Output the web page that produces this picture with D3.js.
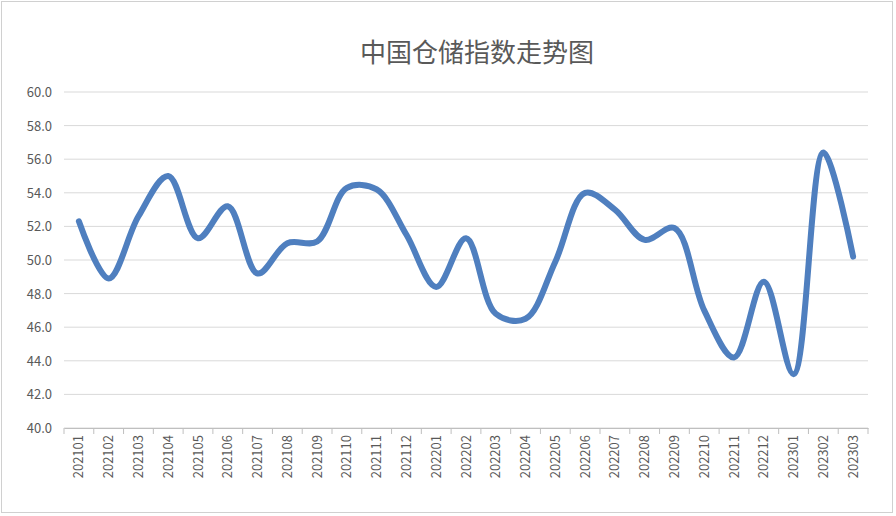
<!DOCTYPE html>
<html><head><meta charset="utf-8">
<script src="https://cdn.jsdelivr.net/npm/d3@7"></script>
<style>body{margin:0;background:#fff}</style>
</head><body><div id="chart"></div>
<script>
var months = ["202101","202102","202103","202104","202105","202106","202107","202108","202109","202110","202111","202112",
  "202201","202202","202203","202204","202205","202206","202207","202208","202209","202210","202211","202212",
  "202301","202302","202303"];
var values = [52.3,48.9,52.6,55.0,51.3,53.2,49.2,51.0,51.1,54.3,54.2,51.5,
  48.4,51.3,46.8,46.5,49.9,54.0,53.0,51.2,51.9,47.0,44.2,48.7,43.2,56.4,50.2];
var yTicks = [40,42,44,46,48,50,52,54,56,58,60];

var width = 896, height = 516;
var plotLeft = 64, plotRight = 868, plotTop = 92, plotBottom = 428;

var svg = d3.select("#chart").append("svg")
  .attr("width", width).attr("height", height)
  .style("font-family", "'Noto Sans CJK SC', 'Noto Sans', sans-serif");

svg.append("rect").attr("x", 1.5).attr("y", 1.5)
  .attr("width", width - 5).attr("height", height - 5)
  .attr("fill", "none").attr("stroke", "#d0d0d0");

svg.append("text").attr("x", 477).attr("y", 62)
  .attr("text-anchor", "middle").attr("fill", "#595959")
  .style("font-size", "26px").text("中国仓储指数走势图");

var x = d3.scaleBand().domain(months).range([plotLeft, plotRight]);
var y = d3.scaleLinear().domain([40, 60]).range([plotBottom, plotTop]);

svg.append("g").selectAll("line").data(yTicks).enter().append("line")
  .attr("x1", plotLeft).attr("x2", plotRight)
  .attr("y1", function (d) { return y(d); }).attr("y2", function (d) { return y(d); })
  .attr("stroke", "#d9d9d9");

svg.append("g").selectAll("text").data(yTicks).enter().append("text")
  .attr("x", 52).attr("y", function (d) { return y(d) + 5; })
  .attr("text-anchor", "end").attr("fill", "#595959")
  .style("font-size", "13px").text(function (d) { return d.toFixed(1); });

// x axis
var xAxis = svg.append("g").attr("transform", "translate(0," + plotBottom + ")")
  .call(d3.axisBottom(x).tickSize(0).tickPadding(6));
xAxis.select(".domain").attr("stroke", "#bfbfbf");
xAxis.selectAll(".tick text")
  .attr("transform", "rotate(-90)")
  .attr("x", -7).attr("y", 0).attr("dy", "0.35em")
  .style("text-anchor", "end").style("font-size", "13px")
  .style("font-family", "'Noto Sans CJK SC', 'Noto Sans', sans-serif")
  .attr("fill", "#595959");
svg.append("g").selectAll("line").data(months.concat(["end"])).enter().append("line")
  .attr("x1", function (d, i) { return plotLeft + i * x.step(); })
  .attr("x2", function (d, i) { return plotLeft + i * x.step(); })
  .attr("y1", plotBottom).attr("y2", plotBottom + 6).attr("stroke", "#bfbfbf");

var line = d3.line()
  .x(function (d, i) { return x(months[i]) + x.bandwidth() / 2; })
  .y(function (d) { return y(d); })
  .curve(d3.curveCatmullRom.alpha(0.5));

svg.append("path").datum(values)
  .attr("d", line).attr("fill", "none")
  .attr("stroke", "#4f7fbf").attr("stroke-width", 6)
  .attr("stroke-linecap", "round").attr("stroke-linejoin", "round");
</script></body></html>
